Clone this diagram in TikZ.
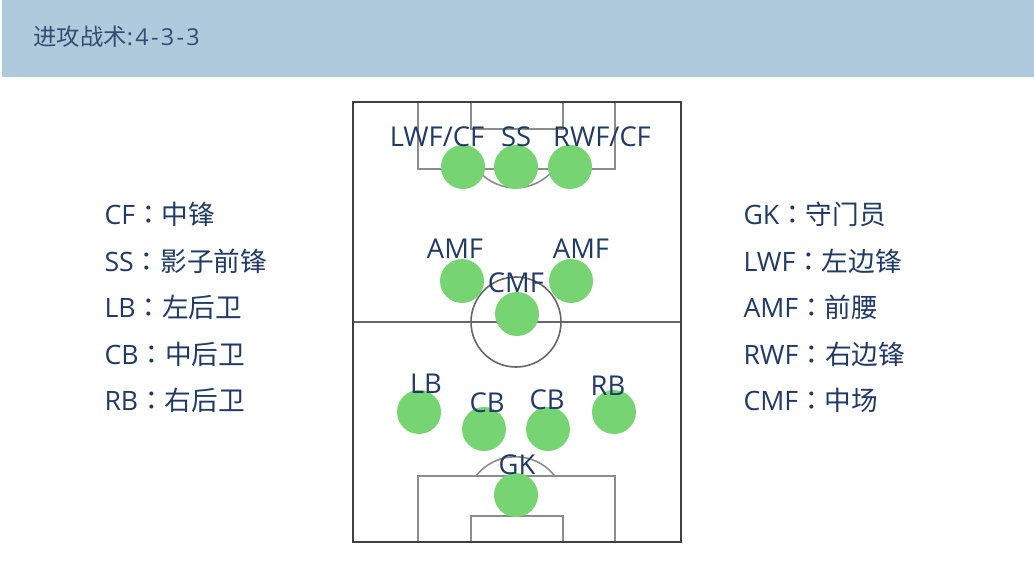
\documentclass[tikz,border=0pt]{standalone}
\usepackage{fontspec}
\setmainfont{Open Sans}
\newfontfamily\cjk{Noto Sans CJK SC}
\newfontfamily\cjktc{Noto Sans CJK TC}
\newfontfamily\titlenum[LetterSpace=10]{Open Sans}
\newcommand{\fwcolon}{{\cjktc ：}}
\definecolor{bandblue}{RGB}{176,202,221}
\definecolor{textblue}{RGB}{32,58,104}
\definecolor{titleblue}{RGB}{50,76,114}
\definecolor{pgreen}{RGB}{118,212,114}
\definecolor{lineout}{RGB}{64,64,64}
\definecolor{linein}{RGB}{140,140,140}
\tikzset{every picture/.style={line width=0.75pt}}
\tikzset{
  player/.style={circle,fill=pgreen,draw=none,minimum size=33,inner sep=0pt},
  postext/.style={anchor=base,inner sep=0pt,text=textblue,font=\fontsize{20.5}{24}\selectfont},
  legendtext/.style={anchor=base west,inner sep=0pt,text=textblue,font=\fontsize{20}{24}\selectfont}
}

\begin{document}
\begin{tikzpicture}[x=0.75pt,y=0.75pt,yscale=-1,xscale=1]
  \useasboundingbox (0,0) rectangle (1034,566);

  % header
  \fill [bandblue] (2,0) rectangle (1034,77) ;
  \node [anchor=base west,inner sep=0pt,text=titleblue,font=\fontsize{17.5}{20}\selectfont] (title) at (33,46) {{\cjk 进攻战术}{\titlenum :4-3-3}};

  % pitch
  \draw [linein,line width=1.2pt] (418,102) rectangle (615,169) ;
  \draw [linein,line width=1.2pt] (471,102) rectangle (563,129) ;
  \draw [linein,line width=1.2pt] (477,169) arc [start angle=-142,end angle=-38,x radius=49,y radius=-49] ;
  \draw [linein,line width=1.2pt] (418,542) rectangle (615,476) ;
  \draw [linein,line width=1.2pt] (471,542) rectangle (563,516) ;
  \draw [linein,line width=1.2pt] (476,476) arc [start angle=142,end angle=38,x radius=50,y radius=-50] ;
  \draw [lineout!80,line width=1.2pt] (353,322) -- (681,322) ;
  \draw [lineout!80,line width=1.2pt] (516,322) circle [radius=45] ;
  \draw [lineout,line width=1.6pt] (353,102) rectangle (681,542) ;

  % players
  \node [player] (lwfcf) at (463,167) {};
  \node [player] (ss) at (516,167) {};
  \node [player] (rwfcf) at (570,167) {};
  \node [player] (amfl) at (462,281) {};
  \node [player] (amfr) at (571,281) {};
  \node [player] (cmf) at (517,314) {};
  \node [player] (lb) at (419,412) {};
  \node [player] (cbl) at (484,429) {};
  \node [player] (cbr) at (548,429) {};
  \node [player] (rb) at (614,412) {};
  \node [player] (gk) at (516,495) {};

  \node [postext] (lwfcftext) at (437,147) {LWF/CF};
  \node [postext] (sstext) at (516,147) {SS};
  \node [postext] (rwfcftext) at (602,147) {RWF/CF};
  \node [postext] (amfltext) at (455,259) {AMF};
  \node [postext] (amfrtext) at (581,259) {AMF};
  \node [postext] (cmftext) at (516,293) {CMF};
  \node [postext] (lbtext) at (426,393) {LB};
  \node [postext] (cbltext) at (487,412) {CB};
  \node [postext] (cbrtext) at (547,409) {CB};
  \node [postext] (rbtext) at (608,395) {RB};
  \node [postext] (gktext) at (517,474) {GK};

  % legend
  \node [legendtext] (cf) at (104,225) {CF\fwcolon{\cjk 中锋}};
  \node [legendtext] (ssl) at (104,272) {SS\fwcolon{\cjk 影子前锋}};
  \node [legendtext] (lbl) at (104,318) {LB\fwcolon{\cjk 左后卫}};
  \node [legendtext] (cbl2) at (104,364) {CB\fwcolon{\cjk 中后卫}};
  \node [legendtext] (rbl) at (104,410) {RB\fwcolon{\cjk 右后卫}};
  \node [legendtext] (gkl) at (743,225) {GK\fwcolon{\cjk 守门员}};
  \node [legendtext] (lwfl) at (743,272) {LWF\fwcolon{\cjk 左边锋}};
  \node [legendtext] (amfl2) at (743,318) {AMF\fwcolon{\cjk 前腰}};
  \node [legendtext] (rwfl) at (743,364) {RWF\fwcolon{\cjk 右边锋}};
  \node [legendtext] (cmfl) at (743,410) {CMF\fwcolon{\cjk 中场}};

\end{tikzpicture}
\end{document}
